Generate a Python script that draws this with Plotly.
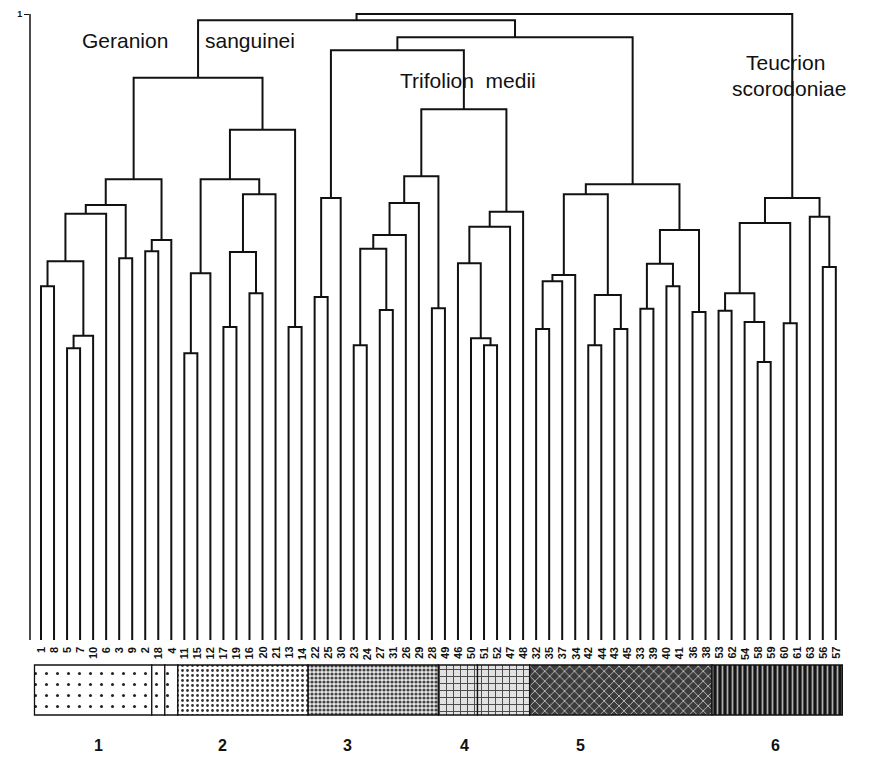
import plotly.graph_objects as go

# ---------------- data ----------------
leaf_labels = [1, 8, 5, 7, 10, 6, 3, 9, 2, 18, 4,
               11, 15, 12, 17, 19, 16, 20, 21, 13, 14,
               22, 25, 30, 23, 24, 27, 31, 26, 29, 28,
               49, 46, 50, 51, 52, 47, 48,
               32, 35, 37, 34, 42, 44, 43, 45, 33, 39, 40, 41, 36, 38,
               53, 62, 54, 58, 59, 60, 61, 63, 56, 57]

# merges: (cluster name, left child, right child, height)
merges = [
    ("a1", 1, 8, 0.565), ("a2", 5, 7, 0.466), ("a3", "a2", 10, 0.486),
    ("a4", "a1", "a3", 0.605), ("a5", "a4", 6, 0.681), ("a6", 3, 9, 0.610),
    ("a7", "a5", "a6", 0.695), ("a8", 2, 18, 0.621), ("a9", "a8", 4, 0.639),
    ("G1", "a7", "a9", 0.736),
    ("b1", 11, 15, 0.458), ("b2", "b1", 12, 0.586), ("b3", 17, 19, 0.500),
    ("b4", 16, 20, 0.554), ("b5", "b3", "b4", 0.620), ("b6", "b5", 21, 0.712),
    ("b7", "b2", "b6", 0.736), ("b8", 13, 14, 0.500), ("G2", "b7", "b8", 0.815),
    ("GER", "G1", "G2", 0.898),
    ("c1", 22, 25, 0.548), ("c2", "c1", 30, 0.706), ("c3", 23, 24, 0.471),
    ("c4", 27, 31, 0.527), ("c5", "c3", "c4", 0.625), ("c6", "c5", 26, 0.647),
    ("c7", "c6", 29, 0.698), ("c8", 28, 49, 0.530), ("c9", "c7", "c8", 0.741),
    ("d1", 51, 52, 0.471), ("d2", 50, "d1", 0.482), ("d3", 46, "d2", 0.602),
    ("d4", "d3", 47, 0.660), ("d5", "d4", 48, 0.684),
    ("c10", "c9", "d5", 0.848), ("c11", "c2", "c10", 0.942),
    ("e1", 32, 35, 0.497), ("e2", "e1", 37, 0.573), ("e3", "e2", 34, 0.583),
    ("e4", 42, 44, 0.471), ("e5", 43, 45, 0.497), ("e6", "e4", "e5", 0.551),
    ("e7", "e3", "e6", 0.712), ("e8", 33, 39, 0.529), ("e9", 40, 41, 0.565),
    ("e10", "e8", "e9", 0.601), ("e11", 36, 38, 0.524), ("e12", "e10", "e11", 0.655),
    ("G5", "e7", "e12", 0.728),
    ("TRI", "c11", "G5", 0.963),
    ("f0", "GER", "TRI", 0.990),
    ("g1", 53, 62, 0.526), ("g2", 58, 59, 0.444), ("g3", 54, "g2", 0.508),
    ("g4", "g1", "g3", 0.554), ("g5", 60, 61, 0.506), ("g6", "g4", "g5", 0.666),
    ("g7", 56, 57, 0.596), ("g8", 63, "g7", 0.676), ("G6", "g6", "g8", 0.706),
    ("root", "f0", "G6", 1.0),
]

group_names = ["1", "2", "3", "4", "5", "6"]
segment_groups = [1, 1, 1, 2, 3, 4, 4, 5, 6]
segment_sizes = [9, 1, 1, 10, 10, 3, 4, 14, 10]
cluster_titles = ["Geranion", "sanguinei", "Trifolion&nbsp; medii", "Teucrion", "scorodoniae"]
y_ticks = [1]

# ---------------- helpers (page pixel -> data, for text placement) ----------------
OFF = 8  # page offset of the figure (default body margin)

def px_x(p):
    return (p - 41) / 13.03

def px_y(p):
    return (640 - p) / 626

FONT = "Liberation Sans, Arial, sans-serif"

# ---------------- dendrogram lines ----------------
pos = {lab: i for i, lab in enumerate(leaf_labels)}
hgt = {lab: 0.0 for lab in leaf_labels}
xs, ys = [], []
for name, a, b, h in merges:
    xa, xb = pos[a], pos[b]
    xs += [xa, xa, xb, xb, None]
    ys += [hgt[a], h, h, hgt[b], None]
    pos[name] = (xa + xb) / 2
    hgt[name] = h

fig = go.Figure()
fig.add_trace(go.Scatter(x=xs, y=ys, mode="lines",
                         line=dict(color="#111111", width=2.0),
                         hoverinfo="skip"))

# ---------------- patterned group bar ----------------
styles = {
    1: dict(shape=".", bgcolor="white", fgcolor="#222222", size=11, solidity=0.06),
    2: dict(shape=".", bgcolor="white", fgcolor="#333333", size=5, solidity=0.25),
    3: dict(shape=".", bgcolor="#e8e8e8", fgcolor="#444444", size=4, solidity=0.5),
    4: dict(shape="+", bgcolor="#e2e2e2", fgcolor="#444444", size=7, solidity=0.25),
    5: dict(shape="x", bgcolor="#3c3c3c", fgcolor="#d0d0d0", size=7, solidity=0.22),
    6: dict(shape="|", bgcolor="#151515", fgcolor="#b0b0b0", size=5, solidity=0.35),
}
bar_bottom, bar_top = px_y(715), px_y(665)
start = 0
for g, n in zip(segment_groups, segment_sizes):
    fig.add_trace(go.Bar(
        x=[start + n / 2 - 0.5], y=[bar_top - bar_bottom], base=[bar_bottom],
        width=[n],
        marker=dict(color=styles[g]["bgcolor"],
                    line=dict(color="#111111", width=1.3),
                    pattern=dict(fillmode="replace", **styles[g])),
        hoverinfo="skip"))
    start += n

# ---------------- texts ----------------
ann = []
for i, lab in enumerate(leaf_labels):
    ann.append(dict(x=i, y=px_y(645), xref="x", yref="y", text=f"<b>{lab}</b>",
                    textangle=-90, showarrow=False, xanchor="center", yanchor="top",
                    font=dict(family=FONT, size=11, color="#111111")))

group_label_px = [98, 222, 347, 464, 580, 775]
for name, p in zip(group_names, group_label_px):
    ann.append(dict(x=px_x(p), y=px_y(745), xref="x", yref="y", text=f"<b>{name}</b>",
                    showarrow=False, font=dict(family=FONT, size=16, color="#111111")))

title_px = [(125, 40), (250, 40), (468, 80), (785, 62), (789, 88)]
for t, (px, py) in zip(cluster_titles, title_px):
    ann.append(dict(x=px_x(px), y=px_y(py), xref="x", yref="y", text=t,
                    showarrow=False, font=dict(family=FONT, size=21, color="#111111")))

fig.update_layout(
    template="none",
    width=879, height=779,
    margin=dict(l=30 - OFF, r=0, t=0, b=0),
    paper_bgcolor="white", plot_bgcolor="white",
    showlegend=False, barmode="overlay",
    annotations=ann,
    shapes=[dict(type="line", xref="paper", yref="y", x0=0, x1=0, y0=0, y1=1,
                 line=dict(color="#111111", width=1.5))],
    xaxis=dict(range=[px_x(30), px_x(879 + OFF)], visible=False, fixedrange=True),
    yaxis=dict(range=[px_y(779 + OFF), px_y(OFF)], tickvals=y_ticks,
               ticktext=[f"<b>{v}</b>" for v in y_ticks],
               ticks="outside", ticklen=5, tickcolor="#111111",
               tickfont=dict(family=FONT, size=9, color="#111111"),
               showgrid=False, zeroline=False, showline=False,
               automargin=False, fixedrange=True),
)

fig.write_html("out.html")
